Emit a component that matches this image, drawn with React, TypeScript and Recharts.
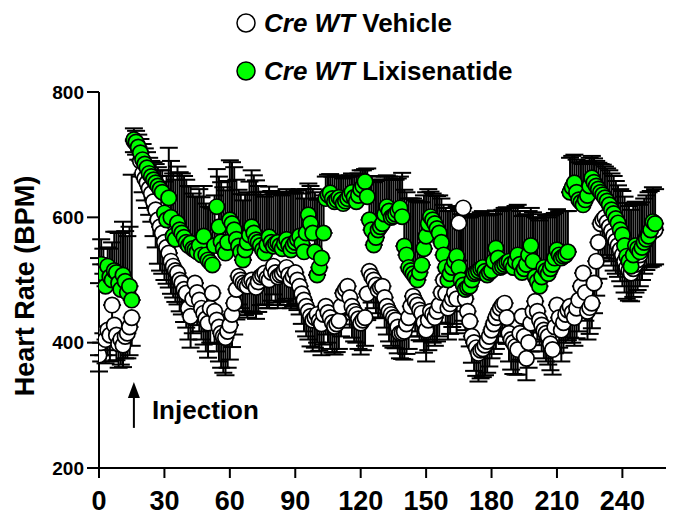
import { ScatterChart, Scatter, XAxis, YAxis, ErrorBar, ReferenceDot } from "recharts";

const FONT = "'Liberation Sans', Arial, Helvetica, sans-serif";

// sampling times (min), one reading per minute
const minutes = [
  0, 1, 2, 3, 4, 5, 6, 7, 8, 9, 10, 11, 12, 13, 14, 15,
  16, 17, 18, 19, 20, 21, 22, 23, 24, 25, 26, 27, 28, 29, 30, 31,
  32, 33, 34, 35, 36, 37, 38, 39, 40, 41, 42, 43, 44, 45, 46, 47,
  48, 49, 50, 51, 52, 53, 54, 55, 56, 57, 58, 59, 60, 61, 62, 63,
  64, 65, 66, 67, 68, 69, 70, 71, 72, 73, 74, 75, 76, 77, 78, 79,
  80, 81, 82, 83, 84, 85, 86, 87, 88, 89, 90, 91, 92, 93, 94, 95,
  96, 97, 98, 99, 100, 101, 102, 103, 104, 105, 106, 107, 108, 109, 110, 111,
  112, 113, 114, 115, 116, 117, 118, 119, 120, 121, 122, 123, 124, 125, 126, 127,
  128, 129, 130, 131, 132, 133, 134, 135, 136, 137, 138, 139, 140, 141, 142, 143,
  144, 145, 146, 147, 148, 149, 150, 151, 152, 153, 154, 155, 156, 157, 158, 159,
  160, 161, 162, 163, 164, 165, 166, 167, 168, 169, 170, 171, 172, 173, 174, 175,
  176, 177, 178, 179, 180, 181, 182, 183, 184, 185, 186, 187, 188, 189, 190, 191,
  192, 193, 194, 195, 196, 197, 198, 199, 200, 201, 202, 203, 204, 205, 206, 207,
  208, 209, 210, 211, 212, 213, 214, 215, 216, 217, 218, 219, 220, 221, 222, 223,
  224, 225, 226, 227, 228, 229, 230, 231, 232, 233, 234, 235, 236, 237, 238, 239,
  240, 241, 242, 243, 244, 245, 246, 247, 248, 249, 250, 251, 252, 253, 254, 255,
];

// Cre WT Vehicle - mean BPM
const vehicleBpm = [
  380, 400, 415, 405, 420, 412, 460, 428, 412, 398, 405, 396, 410, 415, 425, 440,
  722, 718, 712, 690, 670, 662, 655, 646, 638, 625, 612, 596, 585, 575, 560, 552,
  543, 530, 522, 515, 511, 500, 495, 485, 479, 455, 442, 470, 495, 480, 468, 455,
  447, 438, 431, 455, 479, 450, 436, 425, 415, 410, 408, 418, 428, 445, 463, 485,
  506, 500, 495, 492, 490, 498, 500, 494, 488, 497, 505, 508, 511, 503, 500, 512,
  522, 512, 505, 508, 510, 515, 520, 508, 500, 506, 512, 500, 490, 478, 468, 458,
  450, 442, 436, 440, 445, 435, 430, 445, 458, 448, 440, 432, 426, 430, 435, 458,
  479, 485, 490, 472, 458, 450, 445, 438, 431, 436, 440, 478, 514, 506, 500, 492,
  484, 488, 490, 472, 458, 450, 445, 440, 436, 425, 415, 416, 418, 430, 440, 458,
  474, 466, 460, 452, 447, 432, 420, 436, 450, 445, 440, 450, 460, 480, 500, 478,
  455, 462, 470, 480, 470, 591, 500, 615, 470, 450, 434, 410, 400, 392, 383, 388,
  390, 396, 402, 410, 420, 430, 440, 448, 455, 460, 463, 440, 415, 405, 400, 394,
  389, 415, 442, 410, 375, 400, 431, 450, 466, 450, 436, 428, 420, 415, 410, 398,
  389, 425, 460, 440, 420, 432, 445, 452, 458, 448, 440, 455, 468, 490, 511, 480,
  450, 456, 463, 495, 530, 560, 590, 596, 600, 592, 585, 578, 570, 562, 555, 548,
  540, 530, 520, 515, 511, 518, 525, 532, 540, 550, 560, 568, 575, 576, 578, 580,
];

// Vehicle SEM (drawn downward)
const vehicleSem = [
  26, 30, 35, 38, 40, 42, 45, 40, 40, 38, 40, 35, 35, 40, 45, 45,
  18, 18, 20, 25, 30, 35, 40, 42, 45, 55, 60, 70, 70, 65, 60, 58,
  55, 52, 50, 50, 50, 50, 50, 52, 55, 50, 50, 55, 55, 52, 50, 50,
  50, 52, 55, 55, 55, 52, 50, 55, 55, 58, 60, 58, 55, 52, 50, 48,
  45, 45, 45, 48, 50, 50, 50, 48, 50, 48, 45, 48, 50, 48, 45, 45,
  45, 48, 50, 48, 45, 48, 50, 48, 45, 48, 50, 48, 45, 48, 50, 48,
  45, 48, 50, 48, 45, 48, 50, 48, 45, 48, 50, 48, 45, 45, 45, 48,
  50, 48, 45, 48, 50, 48, 45, 48, 50, 48, 45, 42, 40, 42, 45, 45,
  45, 48, 50, 48, 45, 48, 50, 48, 45, 42, 40, 42, 45, 48, 50, 48,
  45, 48, 50, 48, 45, 48, 50, 48, 45, 45, 45, 48, 50, 48, 45, 48,
  50, 48, 45, 50, 55, 60, 50, 180, 50, 45, 40, 42, 45, 45, 45, 45,
  45, 48, 50, 48, 45, 48, 50, 48, 45, 42, 40, 42, 45, 48, 50, 45,
  40, 42, 45, 40, 35, 40, 45, 48, 50, 45, 40, 42, 45, 45, 45, 42,
  40, 42, 45, 48, 50, 48, 45, 48, 50, 48, 45, 48, 50, 48, 45, 45,
  45, 42, 40, 48, 55, 58, 60, 60, 60, 58, 55, 55, 55, 52, 50, 50,
  50, 50, 50, 48, 45, 45, 45, 48, 50, 50, 50, 52, 55, 55, 55, 55,
];

// Cre WT Lixisenatide - mean BPM
const lixiBpm = [
  495, 525, 510, 490, 522, 505, 500, 515, 512, 495, 485, 508, 498, 480, 490, 468,
  724, 720, 712, 703, 692, 685, 679, 670, 665, 660, 655, 650, 645, 640, 607, 596,
  631, 600, 570, 565, 591, 580, 575, 568, 560, 555, 559, 550, 548, 545, 555, 540,
  570, 540, 532, 528, 524, 555, 617, 585, 561, 550, 543, 560, 596, 590, 580, 565,
  554, 545, 532, 548, 560, 572, 585, 575, 564, 560, 555, 548, 543, 556, 569, 560,
  554, 558, 560, 555, 550, 558, 565, 556, 548, 555, 560, 565, 570, 558, 545, 575,
  604, 590, 575, 545, 508, 520, 535, 575, 630, 636, 639, 630, 625, 628, 632, 628,
  622, 626, 630, 635, 640, 632, 625, 635, 645, 650, 657, 633, 596, 580, 556, 568,
  580, 585, 590, 605, 617, 610, 600, 602, 605, 610, 615, 601, 554, 540, 520, 515,
  510, 505, 500, 512, 524, 550, 570, 590, 601, 596, 590, 582, 575, 560, 540, 520,
  500, 510, 520, 530, 538, 520, 500, 492, 485, 488, 490, 500, 510, 512, 515, 518,
  520, 514, 508, 512, 515, 530, 551, 535, 520, 522, 525, 528, 530, 525, 520, 530,
  540, 525, 512, 518, 525, 540, 555, 530, 505, 498, 490, 505, 520, 515, 510, 518,
  525, 535, 548, 540, 535, 538, 540, 545, 640, 648, 655, 640, 628, 624, 620, 628,
  635, 650, 663, 656, 650, 645, 640, 636, 631, 626, 620, 612, 606, 598, 591, 580,
  572, 555, 538, 530, 522, 540, 555, 550, 545, 552, 560, 565, 570, 580, 593, 590,
];

// Lixisenatide SEM (drawn upward)
const lixiSem = [
  40, 40, 40, 35, 30, 45, 60, 62, 65, 80, 90, 85, 80, 90, 95, 200,
  18, 18, 20, 22, 25, 25, 25, 25, 25, 28, 30, 30, 30, 35, 50, 70,
  80, 90, 100, 95, 90, 92, 95, 98, 100, 95, 90, 88, 85, 88, 90, 92,
  80, 82, 85, 88, 90, 80, 60, 80, 95, 98, 100, 98, 95, 98, 100, 95,
  90, 92, 95, 88, 80, 85, 90, 92, 95, 90, 85, 88, 90, 85, 80, 82,
  85, 82, 80, 82, 85, 82, 80, 85, 90, 85, 80, 78, 75, 80, 85, 70,
  50, 60, 70, 95, 120, 110, 95, 60, 35, 32, 30, 35, 40, 38, 35, 38,
  40, 38, 35, 32, 30, 35, 40, 35, 30, 25, 20, 45, 70, 85, 100, 90,
  80, 75, 70, 60, 50, 55, 60, 58, 55, 52, 50, 70, 90, 100, 110, 115,
  120, 122, 125, 112, 100, 85, 70, 55, 40, 42, 45, 52, 60, 70, 80, 95,
  110, 100, 90, 85, 80, 92, 105, 110, 115, 112, 110, 102, 95, 92, 90, 90,
  90, 92, 95, 92, 90, 75, 60, 75, 90, 90, 90, 88, 85, 90, 95, 88,
  80, 85, 90, 85, 80, 70, 60, 78, 95, 100, 105, 95, 85, 88, 90, 85,
  80, 72, 65, 70, 75, 72, 70, 65, 55, 50, 45, 52, 60, 62, 65, 60,
  55, 45, 35, 38, 40, 42, 45, 48, 50, 52, 55, 58, 60, 60, 60, 65,
  70, 78, 85, 88, 90, 80, 70, 72, 75, 72, 70, 70, 70, 62, 55, 55,
];

const xTicks = [0, 30, 60, 90, 120, 150, 180, 210, 240];
const yTicks = [200, 400, 600, 800];

const vehicleData = minutes.map((t, i) => ({
  t,
  bpm: vehicleBpm[i],
  err: [vehicleSem[i], 0],
}));

const lixiData = minutes.map((t, i) => ({
  t,
  bpm: lixiBpm[i],
  err: [0, lixiSem[i]],
}));

const dot = (fill: string) => (p: any) => (
  <circle cx={p.cx} cy={p.cy} r={7.7} fill={fill} stroke="#000" strokeWidth={1.7} />
);

const injectionArrow = (p: any) => (
  <g>
    <line x1={p.cx} y1={p.cy} x2={p.cx} y2={p.cy - 32} stroke="#000" strokeWidth={2} />
    <polygon
      points={`${p.cx - 6},${p.cy - 30} ${p.cx + 6},${p.cy - 30} ${p.cx},${p.cy - 46}`}
      fill="#000"
    />
    <text x={p.cx + 18} y={p.cy - 9} fontFamily={FONT} fontWeight={700} fontSize={26} fill="#000">
      Injection
    </text>
  </g>
);

export default function App() {
  return (
    <div style={{ position: "absolute", left: 0, top: 0, width: 692, height: 518 }}>
      <ScatterChart width={692} height={518} margin={{ top: 92, right: 26, bottom: 0, left: 0 }}>
        <XAxis
          type="number"
          dataKey="t"
          domain={[0, 260]}
          ticks={xTicks}
          allowDataOverflow
          height={50}
          tickSize={10}
          tickMargin={13}
          axisLine={{ stroke: "#000", strokeWidth: 2 }}
          tickLine={{ stroke: "#000", strokeWidth: 2 }}
          tick={{ fill: "#000", fontSize: 27, fontWeight: 700, fontFamily: FONT }}
        />
        <YAxis
          type="number"
          dataKey="bpm"
          domain={[200, 800]}
          ticks={yTicks}
          allowDataOverflow
          width={99}
          tickSize={12}
          tickMargin={3}
          axisLine={{ stroke: "#000", strokeWidth: 2 }}
          tickLine={{ stroke: "#000", strokeWidth: 2 }}
          tick={{ fill: "#000", fontSize: 19, fontWeight: 700, fontFamily: FONT }}
        />
        <Scatter data={vehicleData} shape={dot("#ffffff")} isAnimationActive={false}>
          <ErrorBar dataKey="err" direction="y" width={9} stroke="#000" strokeWidth={2} />
        </Scatter>
        <Scatter data={lixiData} shape={dot("#00ff00")} isAnimationActive={false}>
          <ErrorBar dataKey="err" direction="y" width={9} stroke="#000" strokeWidth={2} />
        </Scatter>
        <ReferenceDot x={16} y={264} shape={injectionArrow} />
      </ScatterChart>
      <svg
        width={692}
        height={518}
        style={{ position: "absolute", left: 0, top: 0, pointerEvents: "none" }}
      >
        <g fontFamily={FONT} fontWeight={700} fontSize={26} fill="#000">
          <circle cx={246} cy={23} r={9} fill="#fff" stroke="#000" strokeWidth={1.5} />
          <text x={264} y={32}>
            <tspan fontStyle="italic">Cre WT</tspan> Vehicle
          </text>
          <circle cx={246} cy={71} r={9} fill="#00ff00" stroke="#000" strokeWidth={1.5} />
          <text x={264} y={80}>
            <tspan fontStyle="italic">Cre WT</tspan> Lixisenatide
          </text>
          <text
            x={0}
            y={0}
            fontSize={27}
            textAnchor="middle"
            transform="translate(34 286) rotate(-90)"
          >
            Heart Rate (BPM)
          </text>
        </g>
      </svg>
    </div>
  );
}
